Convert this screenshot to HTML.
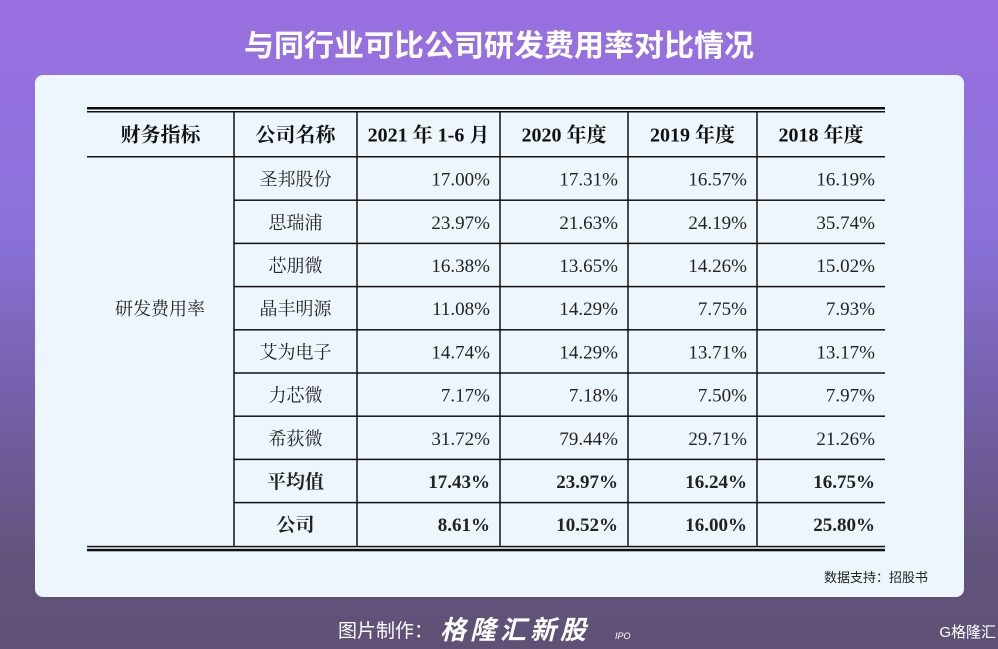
<!DOCTYPE html>
<html><head><meta charset="utf-8"><style>
html,body{margin:0;padding:0;width:998px;height:649px;overflow:hidden}
body{background:linear-gradient(180deg,#9a6fe0 0%,#8a72da 35%,#7460a8 62%,#63547e 85%,#5f5075 100%);font-family:"Liberation Serif","Noto Serif CJK SC",serif}
svg text{font-family:"Liberation Serif","Noto Serif CJK SC",serif}
</style></head><body>
<svg width="998" height="649">
<text x="499" y="56" text-anchor="middle" font-size="30" font-weight="bold" fill="#fff" style="font-family:'Liberation Sans','Noto Sans CJK SC',sans-serif">与同行业可比公司研发费用率对比情况</text>
<rect x="35" y="75" width="929" height="522" rx="8" fill="#eef6fd"/>
<g id="tbl"></g>
<text x="928" y="582" text-anchor="end" font-size="13" fill="#222" style="font-family:'Liberation Sans','Noto Sans CJK SC',sans-serif">数据支持：招股书</text>
<text x="433" y="637" text-anchor="end" font-size="19" fill="#fff" style="font-family:'Liberation Sans','Noto Sans CJK SC',sans-serif">图片制作：</text>
<text x="440" y="639" font-size="26" font-weight="bold" font-style="italic" fill="#fff" letter-spacing="4" style="font-family:'Liberation Sans','Noto Sans CJK SC',sans-serif">格隆汇新股</text>
<text x="615" y="639" font-size="9" font-style="italic" fill="#fff" style="font-family:'Liberation Sans',sans-serif">IPO</text>
<text x="996" y="637" text-anchor="end" font-size="15" fill="#fff" style="font-family:'Liberation Sans','Noto Sans CJK SC',sans-serif">G格隆汇</text>
</svg>
<script>
const headers=["财务指标","公司名称","2021 年 1-6 月","2020 年度","2019 年度","2018 年度"];
const companies=["圣邦股份","思瑞浦","芯朋微","晶丰明源","艾为电子","力芯微","希荻微","平均值","公司"];
const v2021=["17.00%","23.97%","16.38%","11.08%","14.74%","7.17%","31.72%","17.43%","8.61%"];
const v2020=["17.31%","21.63%","13.65%","14.29%","14.29%","7.18%","79.44%","23.97%","10.52%"];
const v2019=["16.57%","24.19%","14.26%","7.75%","13.71%","7.50%","29.71%","16.24%","16.00%"];
const v2018=["16.19%","35.74%","15.02%","7.93%","13.17%","7.97%","21.26%","16.75%","25.80%"];
const NS="http://www.w3.org/2000/svg";
const g=document.getElementById('tbl');
const cols=[87,234,357,500,628,757,885];
const top0=112,headH=45,rowH=43.2;
function el(t,a,txt){const e=document.createElementNS(NS,t);for(const k in a)e.setAttribute(k,a[k]);if(txt!=null)e.textContent=txt;g.appendChild(e);return e;}
let e;
e=el('rect',{x:87,y:107,width:798,height:2.5,fill:'#111'});


e=el('rect',{x:87,y:111,width:798,height:1.5,fill:'#111'});


const bot=top0+headH+rowH*companies.length;
e=el('rect',{x:87,y:bot,width:798,height:1.5,fill:'#111'});


e=el('rect',{x:87,y:bot+3,width:798,height:2.5,fill:'#111'});


e=el('rect',{x:87,y:top0+headH-1,width:798,height:1.5,fill:'#111'});


for(let i=1;i<companies.length;i++){
  const y=top0+headH+rowH*i;
  e=el('rect',{x:234,y:y-0.75,width:651,height:1.5,fill:'#111'});
  
  
}
for(let c=1;c<6;c++){
  e=el('rect',{x:cols[c]-0.75,y:top0,width:1.5,height:bot-top0,fill:'#111'});
  
  
}
headers.forEach((h,i)=>{
  e=el('text',{x:(cols[i]+cols[i+1])/2,y:top0+headH/2+7,'text-anchor':'middle','font-size':20,'font-weight':'bold',fill:'#111'},h);
  
  
});
e=el('text',{x:160,y:top0+headH+rowH*3.5+7,'text-anchor':'middle','font-size':18,fill:'#222'},'研发费用率');


const series=[v2021,v2020,v2019,v2018];
companies.forEach((c,r)=>{
  const cy=top0+headH+rowH*r+rowH/2+7;
  const bold=r>=7;
  e=el('text',{x:(cols[1]+cols[2])/2,y:cy,'text-anchor':'middle','font-size':bold?19:18,'font-weight':bold?'bold':'normal',fill:'#222'},c);
  
  
  series.forEach((s,k)=>{
    e=el('text',{x:cols[k+3]-10,y:cy,'text-anchor':'end','font-size':19,'font-weight':bold?'bold':'normal',fill:'#222'},s[r]);
    
    
  });
});
</script>
</body></html>
